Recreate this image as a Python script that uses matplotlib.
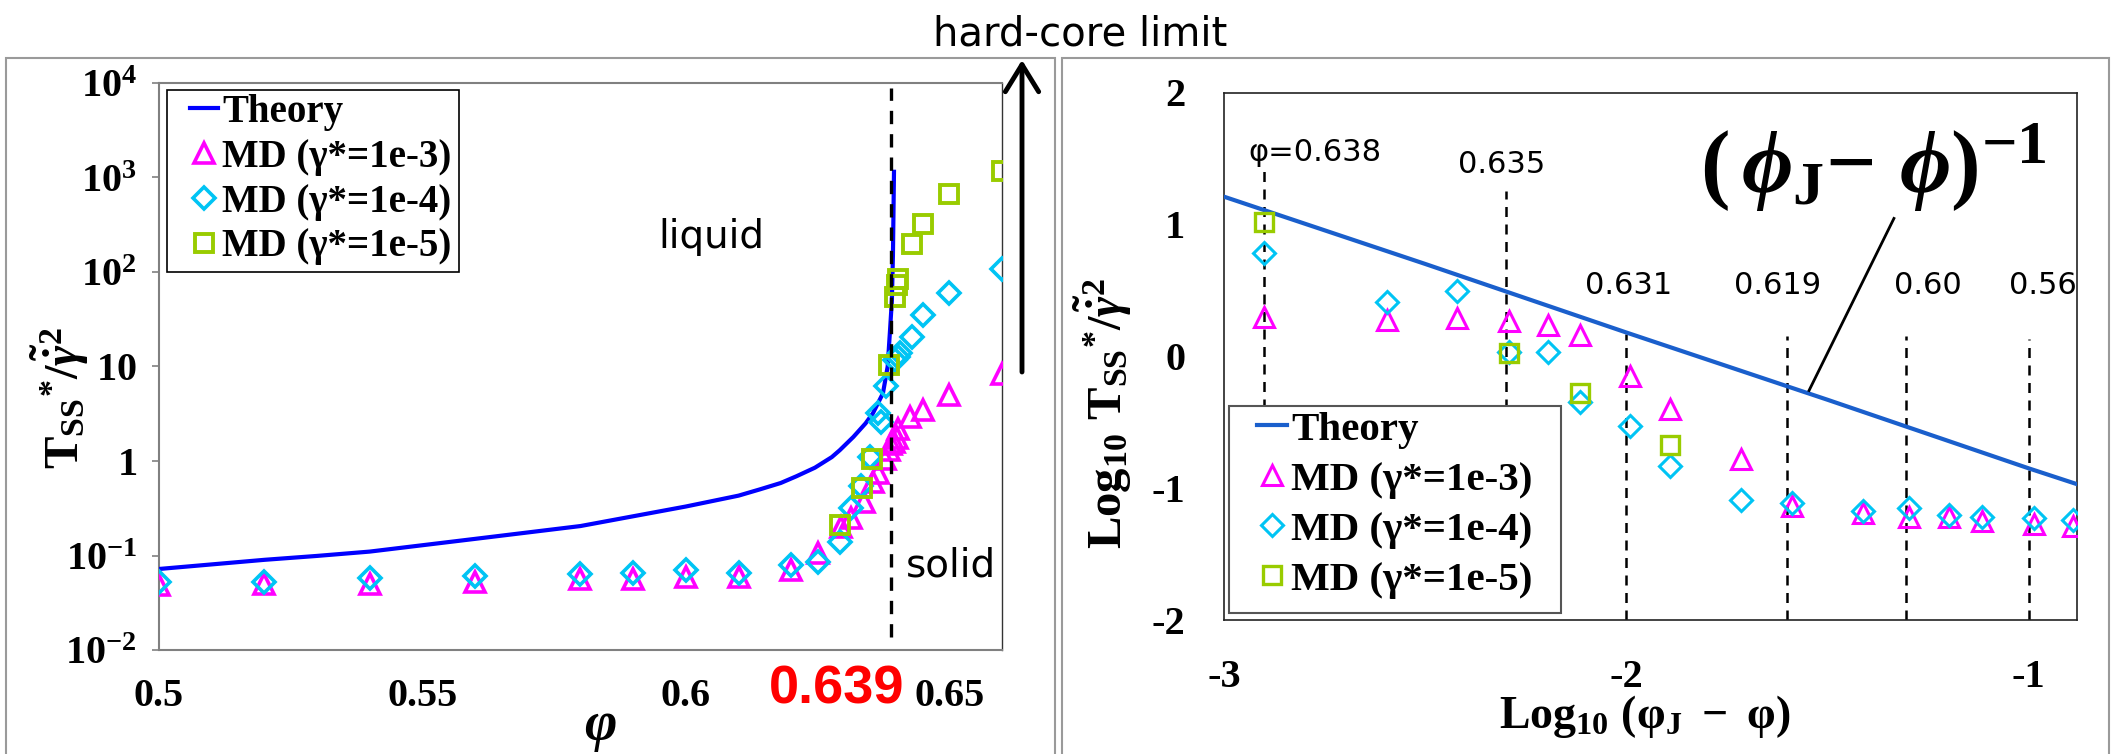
import numpy as np
import matplotlib
matplotlib.use('Agg')
from matplotlib import pyplot as plt
from matplotlib.patches import Rectangle

plt.rcParams['mathtext.fontset'] = 'custom'
plt.rcParams['mathtext.rm'] = 'Liberation Serif:bold'
plt.rcParams['mathtext.it'] = 'Liberation Serif:italic:bold'
plt.rcParams['mathtext.bf'] = 'Liberation Serif:bold'
plt.rcParams['font.family'] = ['Liberation Serif', 'DejaVu Serif']

# left panel: theory curve and MD data, phi vs T_ss*/gamma^2
phi_th = [0.50, 0.52, 0.53, 0.54, 0.56, 0.58, 0.60, 0.61, 0.614, 0.618, 0.621, 0.6245, 0.6277, 0.6292,
          0.6318, 0.6341, 0.6355, 0.6374, 0.6383, 0.6387, 0.6391, 0.6393, 0.6395]
T_th = [0.072, 0.090, 0.099, 0.110, 0.150, 0.205, 0.330, 0.430, 0.50, 0.585, 0.69, 0.85, 1.10, 1.30,
        1.80, 2.5, 3.2, 5.2, 10.0, 22.0, 50.0, 150.0, 1150.0]

phi_md3 = [0.50, 0.52, 0.54, 0.56, 0.58, 0.59, 0.60, 0.61, 0.62, 0.625, 0.6295, 0.6314, 0.6339,
           0.6355, 0.6364, 0.6377, 0.6385, 0.639, 0.6395, 0.640, 0.6402, 0.6425, 0.645, 0.65, 0.66]
T_md3 = [0.049, 0.050, 0.050, 0.052, 0.056, 0.056, 0.059, 0.059, 0.071, 0.107, 0.20, 0.25, 0.37,
         0.60, 0.74, 1.05, 1.3, 1.5, 1.6, 1.75, 2.2, 2.9, 3.5, 5.0, 8.4]

phi_md4 = [0.50, 0.52, 0.54, 0.56, 0.58, 0.59, 0.60, 0.61, 0.62, 0.625, 0.6293, 0.6314, 0.6333,
           0.6349, 0.6364, 0.637, 0.638, 0.6397, 0.6402, 0.6406, 0.643, 0.645, 0.65, 0.66]
T_md4 = [0.052, 0.053, 0.058, 0.060, 0.063, 0.066, 0.071, 0.066, 0.079, 0.086, 0.14, 0.32, 0.54,
         1.1, 3.2, 2.6, 6.2, 11.7, 12.5, 13.8, 20.4, 35.5, 60.0, 107.0]

phi_md5 = [0.6293, 0.6334, 0.6353, 0.6385, 0.6396, 0.640, 0.6403, 0.643, 0.645, 0.65, 0.66]
T_md5 = [0.21, 0.52, 1.05, 10.4, 55.0, 72.0, 85.0, 196.0, 322.0, 674.0, 1170.0]

# right panel: log10(phiJ - phi) vs log10 T
lx_th = [-3.0, -2.5, -2.0, -1.5, -1.0, -0.88]
ly_th = [1.21, 0.70, 0.18, -0.33, -0.85, -0.97]

lx_md = [-2.90, -2.595, -2.42, -2.292, -2.195, -2.115, -1.992, -1.892, -1.715, -1.589,
         -1.412, -1.298, -1.199, -1.116, -0.988, -0.891]
ly_md3 = [0.30, 0.277, 0.287, 0.27, 0.238, 0.163, -0.15, -0.40, -0.78, -1.135,
          -1.19, -1.22, -1.22, -1.25, -1.27, -1.285]
ly_md4 = [0.783, 0.414, 0.494, 0.032, 0.035, -0.345, -0.526, -0.83, -1.09, -1.11,
          -1.17, -1.15, -1.20, -1.22, -1.23, -1.245]
lx_md5 = [-2.90, -2.292, -2.115, -1.892]
ly_md5 = [1.016, 0.025, -0.275, -0.67]

guide_x = [-2.90, -2.30, -2.0, -1.60, -1.305, -1.0]
guide_top = [1.45, 1.25, 0.17, 0.15, 0.15, 0.13]
guide_bot = [-0.4, -0.4, -2.0, -2.0, -2.0, -2.0]
guide_lab = ['\u03c6=0.638', '0.635', '0.631', '0.619', '0.60', '0.56']
guide_lab_x = [-2.94, -2.31, -1.994, -1.624, -1.25, -0.965]
guide_lab_y = [1.545, 1.455, 0.535, 0.535, 0.535, 0.535]

labels = ['Theory', 'MD (\u03b3*=1e-3)', 'MD (\u03b3*=1e-4)', 'MD (\u03b3*=1e-5)']
c_th = '#0000ff'
c_th2 = '#1a5fcc'
c3 = '#ff00ff'
c4 = '#00c4f4'
c5 = '#99cc00'

fig = plt.figure(figsize=(21.14, 7.54), dpi=100)

# panel frames
fig.patches.append(Rectangle((6/2114, -0.01), 1049/2114, 696/754 + 0.01, transform=fig.transFigure,
                             fill=False, ec='#9a9a9a', lw=1.5))
fig.patches.append(Rectangle((1062/2114, -0.01), 1047/2114, 696/754 + 0.01, transform=fig.transFigure,
                             fill=False, ec='#9a9a9a', lw=1.5))

# ---- left panel
ax1 = fig.add_axes([159/2114, 1 - 650/754, 843/2114, 567/754])
ax1.set_yscale('log')
ax1.plot(phi_th, T_th, color=c_th, lw=3, label=labels[0], zorder=3)
ax1.plot(phi_md3, T_md3, ls='none', marker='^', ms=15, mfc='none', mec=c3, mew=2.6, label=labels[1], zorder=4)
ax1.plot(phi_md4, T_md4, ls='none', marker='D', ms=11.5, mfc='none', mec=c4, mew=2.6, label=labels[2], zorder=5)
ax1.plot(phi_md5, T_md5, ls='none', marker='s', ms=13.5, mfc='none', mec=c5, mew=2.8, label=labels[3], zorder=6)
ax1.plot([0.639, 0.639], [0.0138, 8900], color='black', lw=2.4, ls=(0, (4, 3)), zorder=7)
ax1.set_xlim(0.5, 0.66)
ax1.set_ylim(1e-2, 1e4)
ax1.minorticks_off()
ax1.set_yticks([1e-2, 1e-1, 1, 10, 1e2, 1e3, 1e4])
ax1.set_yticklabels([r'$\mathbf{10^{-2}}$', r'$\mathbf{10^{-1}}$', r'$\mathbf{1}$', r'$\mathbf{10}$',
                     r'$\mathbf{10^{2}}$', r'$\mathbf{10^{3}}$', r'$\mathbf{10^{4}}$'])
ax1.set_xticks([0.5, 0.55, 0.6, 0.65])
ax1.set_xticklabels(['0.5', '0.55', '0.6', '0.65'], fontweight='bold')
ax1.tick_params(axis='y', length=5, width=1.2, color='#808080', pad=11, labelsize=29)
ax1.tick_params(axis='x', length=0, pad=20, labelsize=29)
for s in ax1.spines.values():
    s.set_color('#808080')
    s.set_linewidth(1.5)
ax1.spines['right'].set_color('#333333')
ax1.spines['right'].set_linewidth(1)

# legend box drawn by hand, entries placed inside it
ax1.add_patch(Rectangle((8/843, (650-272)/567), 292/843, 182/567, transform=ax1.transAxes,
                        fc='white', ec='black', lw=1.2, zorder=9))
leg1 = ax1.legend(loc='upper left', bbox_to_anchor=(31/843, (650-94)/567), borderaxespad=0, borderpad=0,
                  prop={'family': 'Liberation Serif', 'weight': 'bold', 'size': 28},
                  frameon=False, handlelength=0.72, handletextpad=0.1, labelspacing=0.2)
leg1.set_zorder(10)

ax1.text(0.6048, 235, 'liquid', fontsize=28, family='DejaVu Sans', ha='center', va='center')
ax1.text(0.6504, 0.079, 'solid', fontsize=28, family='DejaVu Sans', ha='center', va='center')

fig.text(60/2114, 1 - 398/754, r'$\mathrm{T_{SS}}^{*}/\tilde{\dot{\gamma}}^{2}$', fontsize=35,
         rotation=90, ha='center', va='center')
fig.text(600/2114, 1 - 726/754, '\u03c6', fontsize=40, family='Liberation Serif', style='italic',
         weight='bold', ha='center', va='center')
fig.text(837/2114, 1 - 690/754, '0.639', fontsize=39, family='Liberation Sans', weight='bold',
         color='#ff0000', ha='center', va='center')

# hard-core limit arrow
ax1.annotate('', xy=(1022/2114, 1 - 60/754), xytext=(1022/2114, 1 - 372/754),
             xycoords='figure fraction', textcoords='figure fraction', annotation_clip=False,
             arrowprops=dict(arrowstyle='->,head_length=0.65,head_width=0.4', lw=3.5, color='black',
                             mutation_scale=30, shrinkA=0, shrinkB=0))
fig.text(933/2114, 1 - 46/754, 'hard-core limit', fontsize=29, family='DejaVu Sans', ha='left',
         va='baseline')

# ---- right panel
ax2 = fig.add_axes([1224/2114, 1 - 620/754, 853/2114, 527.5/754])
ax2.plot(lx_th, ly_th, color=c_th2, lw=3, label=labels[0], zorder=3)
ax2.plot(lx_md, ly_md3, ls='none', marker='^', ms=15, mfc='none', mec=c3, mew=2.2, label=labels[1], zorder=4)
ax2.plot(lx_md, ly_md4, ls='none', marker='D', ms=11.5, mfc='none', mec=c4, mew=2.2, label=labels[2], zorder=5)
ax2.plot(lx_md5, ly_md5, ls='none', marker='s', ms=13, mfc='none', mec=c5, mew=2.4, label=labels[3], zorder=6)
for gx, gt, gb in zip(guide_x, guide_top, guide_bot):
    ax2.plot([gx, gx], [gb, gt], color='black', lw=1.8, ls=(0, (4, 3)), zorder=2)
for lab, tx, ty in zip(guide_lab, guide_lab_x, guide_lab_y):
    ax2.text(tx, ty, lab, fontsize=22, family='DejaVu Sans', ha='left' if lab.startswith('\u03c6') else 'center',
             va='center')
ax2.plot([-1.335, -1.546], [1.045, -0.26], color='black', lw=2, zorder=3)
ax2.text(-1.387, 1.43, r'$(\,\phi_{\mathrm{J}}\mathrm{-}\ \phi)^{\mathrm{-1}}$', fontsize=64,
         ha='center', va='center')
ax2.set_xlim(-3, -0.88)
ax2.set_ylim(-2, 2)
ax2.set_xticks([-3, -2, -1])
ax2.set_xticklabels(['-3', '-2', '-1'], fontweight='bold')
ax2.set_yticks([-2, -1, 0, 1, 2])
ax2.set_yticklabels(['-2', '-1', '0', '1', '2'], fontweight='bold')
ax2.tick_params(axis='both', length=0, labelsize=29)
ax2.tick_params(axis='y', pad=28)
ax2.tick_params(axis='x', pad=28)
for s in ax2.spines.values():
    s.set_color('#222222')
    s.set_linewidth(1.2)

ax2.add_patch(Rectangle((4.5/853, 7/527.5), 332.5/853, 207/527.5, transform=ax2.transAxes,
                        fc='white', ec='#555555', lw=1.5, zorder=9))
leg2 = ax2.legend(loc='upper left', bbox_to_anchor=(33/853, (620-411)/527.5), borderaxespad=0, borderpad=0,
                  prop={'family': 'Liberation Serif', 'weight': 'bold', 'size': 29.5},
                  frameon=False, handlelength=0.74, handletextpad=0.1, labelspacing=0.3)
leg2.set_zorder(10)

fig.text(1103/2114, 1 - 413/754, r'$\mathrm{Log_{10}\ T_{SS}}^{*}/\tilde{\dot{\gamma}}^{2}$', fontsize=35,
         rotation=90, ha='center', va='center')
fig.text(1645/2114, 1 - 717/754, r'$\mathrm{Log_{10}\ (\varphi_{J}\ -\ \varphi)}$', fontsize=33,
         ha='center', va='center')

plt.savefig('out.png', dpi=100)
